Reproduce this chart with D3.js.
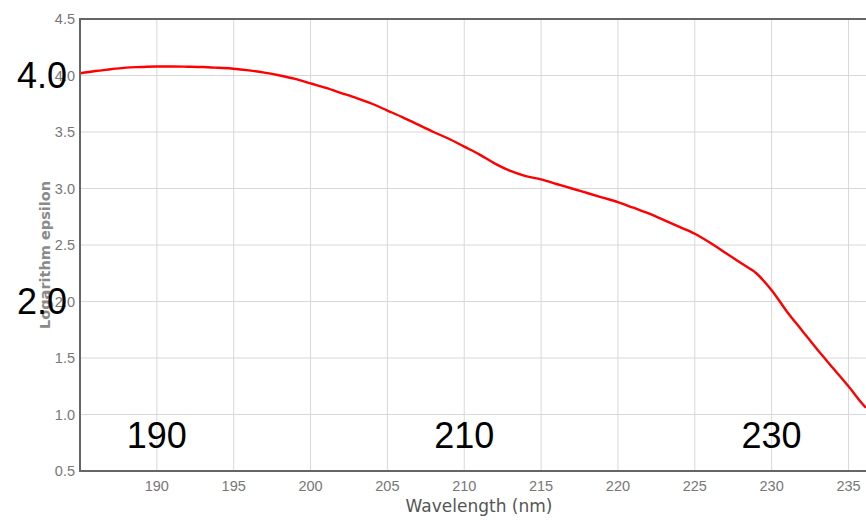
<!DOCTYPE html>
<html>
<head>
<meta charset="utf-8">
<script src="https://cdn.jsdelivr.net/npm/d3@7"></script>
<style>
  body { margin: 0; background: #fff; }
  svg { display: block; font-family: "Liberation Sans", Arial, sans-serif; }
</style>
</head>
<body>
<svg></svg>
<script>
// spectrum (wavelength nm, log epsilon)
var wavelength = [185, 186, 187, 188, 189, 190, 191, 192, 193, 194, 195, 196, 197, 198, 199,
    200, 201, 202, 203, 204, 205, 206, 207, 208, 209, 210, 211, 212, 213, 214, 215, 216, 217,
    218, 219, 220, 221, 222, 223, 224, 225, 226, 227, 228, 229, 230, 231, 232, 233, 234, 235,
    236, 236.14];
var logEps = [4.02, 4.04, 4.055, 4.07, 4.075, 4.08, 4.08, 4.078, 4.075, 4.068, 4.06, 4.045,
    4.025, 4.0, 3.97, 3.93, 3.89, 3.845, 3.80, 3.75, 3.69, 3.63, 3.565, 3.50, 3.44, 3.37, 3.30,
    3.22, 3.155, 3.11, 3.08, 3.04, 3.00, 2.96, 2.92, 2.88, 2.83, 2.78, 2.72, 2.66, 2.60, 2.52,
    2.43, 2.34, 2.25, 2.10, 1.91, 1.74, 1.57, 1.41, 1.25, 1.08, 1.06];

var xTicks = [190, 195, 200, 205, 210, 215, 220, 225, 230, 235];
var yTicks = [0.5, 1.0, 1.5, 2.0, 2.5, 3.0, 3.5, 4.0, 4.5];

// big overlay labels
var bigYLabels = [4.0, 2.0];
var bigXLabels = [190, 210, 230];

var width = 866, height = 520;
var svg = d3.select("svg").attr("width", width).attr("height", height);

var x = d3.scaleLinear().domain([185, 236.14]).range([80, 866]);
var y = d3.scaleLinear().domain([0.5, 4.5]).range([471, 19]);

// grid
svg.append("g")
    .selectAll("line")
    .data(xTicks)
    .join("line")
    .attr("x1", d => x(d)).attr("x2", d => x(d))
    .attr("y1", y(4.5)).attr("y2", y(0.5))
    .attr("stroke", "#d8d8d8").attr("stroke-width", 1);

svg.append("g")
    .selectAll("line")
    .data(yTicks)
    .join("line")
    .attr("x1", x(185)).attr("x2", width)
    .attr("y1", d => y(d)).attr("y2", d => y(d))
    .attr("stroke", "#d8d8d8").attr("stroke-width", 1);

// curve
var line = d3.line()
    .x((d, i) => x(wavelength[i]))
    .y(d => y(d))
    .curve(d3.curveMonotoneX);

svg.append("path")
    .datum(logEps)
    .attr("d", line)
    .attr("fill", "none")
    .attr("stroke", "#ff0000")
    .attr("stroke-width", 2.4);

// frame: left, bottom, top
svg.append("line")
    .attr("x1", x(185)).attr("x2", x(185))
    .attr("y1", y(4.5)).attr("y2", y(0.5) + 1)
    .attr("stroke", "#666").attr("stroke-width", 2);
svg.append("line")
    .attr("x1", x(185) - 1).attr("x2", width)
    .attr("y1", y(0.5)).attr("y2", y(0.5))
    .attr("stroke", "#666").attr("stroke-width", 2);
svg.append("line")
    .attr("x1", x(185) - 1).attr("x2", width)
    .attr("y1", y(4.5)).attr("y2", y(4.5))
    .attr("stroke", "#666").attr("stroke-width", 2);

// tick labels
svg.append("g")
    .selectAll("text")
    .data(yTicks)
    .join("text")
    .attr("x", x(185) - 5)
    .attr("y", d => y(d))
    .attr("dy", "0.36em")
    .attr("text-anchor", "end")
    .attr("font-size", 14.5)
    .attr("fill", "#777")
    .text(d => d.toFixed(1));

svg.append("g")
    .selectAll("text")
    .data(xTicks)
    .join("text")
    .attr("x", d => x(d))
    .attr("y", y(0.5) + 20)
    .attr("text-anchor", "middle")
    .attr("font-size", 14.5)
    .attr("fill", "#777")
    .text(d => d);

// axis titles
svg.append("text")
    .attr("transform", "translate(50,255) rotate(-90)")
    .attr("text-anchor", "middle")
    .attr("font-family", "DejaVu Sans")
    .attr("font-size", 14.5)
    .attr("font-weight", "bold")
    .attr("fill", "#8a8a8a")
    .text("Logarithm epsilon");

svg.append("text")
    .attr("x", 479)
    .attr("y", 512)
    .attr("text-anchor", "middle")
    .attr("font-family", "DejaVu Sans")
    .attr("font-size", 17)
    .attr("fill", "#555")
    .text("Wavelength (nm)");

// large overlay labels
svg.append("g")
    .selectAll("text")
    .data(bigYLabels)
    .join("text")
    .attr("x", 17)
    .attr("y", d => y(d))
    .attr("dy", "0.35em")
    .attr("font-size", 36)
    .attr("fill", "#000")
    .text(d => d.toFixed(1));

svg.append("g")
    .selectAll("text")
    .data(bigXLabels)
    .join("text")
    .attr("x", d => x(d))
    .attr("y", y(0.5) - 36)
    .attr("dy", "0.35em")
    .attr("text-anchor", "middle")
    .attr("font-size", 36)
    .attr("fill", "#000")
    .text(d => d);
</script>
</body>
</html>
